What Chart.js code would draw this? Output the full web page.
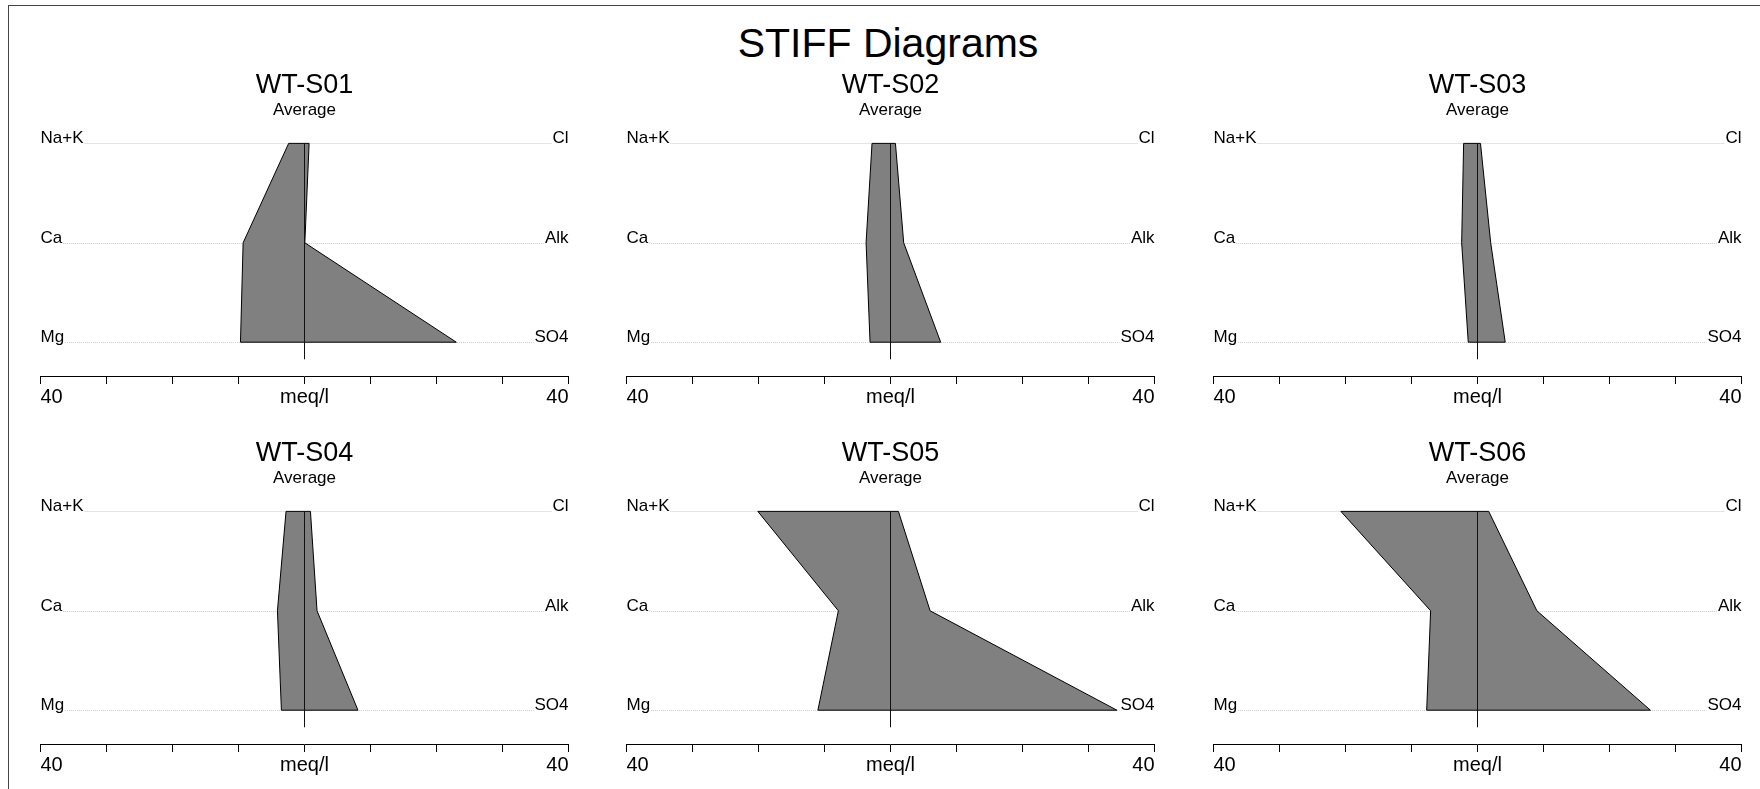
<!DOCTYPE html>
<html>
<head>
<meta charset="utf-8">
<script src="https://cdn.jsdelivr.net/npm/chart.js@4/dist/chart.umd.min.js"></script>
<style>
  html, body { margin: 0; padding: 0; background: #fff; overflow: hidden; }
  body { width: 1760px; height: 789px; position: relative; }
  #frame { position: absolute; left: 8px; top: 5px; width: 2000px; height: 2000px; border: 1px solid #444; }
  #mainTitle { position: absolute; left: 688px; top: 23px; width: 400px; text-align: center;
    font: 41px 'Liberation Sans', Arial, sans-serif; line-height: 40px; color: #000; }
  canvas { position: absolute; }
</style>
</head>
<body>
<div id="frame"></div>
<div id="mainTitle">STIFF Diagrams</div>

<script>
// Data (meq/l)
const stations = ['WT-S01', 'WT-S02', 'WT-S03', 'WT-S04', 'WT-S05', 'WT-S06'];
const cations = ['Na+K', 'Ca', 'Mg'];
const anions = ['Cl', 'Alk', 'SO4'];
const naK = [2.4, 2.8, 2.1, 2.8, 20.1, 20.7];
const ca  = [9.3, 3.7, 2.4, 4.1, 7.9, 7.1];
const mg  = [9.7, 3.1, 1.4, 3.5, 11.0, 7.7];
const cl  = [0.7, 0.75, 0.45, 0.9, 1.2, 1.7];
const alk = [0.05, 2.0, 2.0, 1.9, 6.0, 9.0];
const so4 = [23.0, 7.6, 4.2, 8.1, 34.3, 26.2];
const xTickLabels = ['40', '', '', '', 'meq/l', '', '', '', '40'];

const FONT = "'Liberation Sans', Arial, sans-serif";
Chart.defaults.font.family = FONT;
Chart.defaults.color = '#000';

// ion names and dotted row lines
const rowPlugin = {
  id: 'ionRows',
  beforeDatasetsDraw(chart) {
    const {ctx, chartArea, scales} = chart;
    ctx.save();
    ctx.font = '17px ' + FONT;
    ctx.strokeStyle = '#c8c8c8';
    ctx.lineWidth = 1;
    ctx.setLineDash([1, 1]);
    cations.forEach((lab, i) => {
      const py = Math.round(scales.y.getPixelForValue(i)) + 0.5;
      const lw = ctx.measureText(lab).width;
      const rw = ctx.measureText(anions[i]).width;
      ctx.beginPath();
      ctx.moveTo(chartArea.left + lw + 1, py);
      ctx.lineTo(chartArea.right - rw - 1, py);
      ctx.stroke();
    });
    ctx.restore();
  },
  afterDatasetsDraw(chart) {
    const {ctx, chartArea, scales} = chart;
    ctx.save();
    ctx.font = '17px ' + FONT;
    ctx.fillStyle = '#000';
    ctx.textBaseline = 'alphabetic';
    cations.forEach((lab, i) => {
      const py = scales.y.getPixelForValue(i);
      ctx.textAlign = 'left';
      ctx.fillText(lab, chartArea.left, py);
      ctx.textAlign = 'right';
      ctx.fillText(anions[i], chartArea.right, py);
    });
    ctx.restore();
  }
};

const colLeft = [20, 606, 1193];
const rowTop = [60, 428];

stations.forEach((name, i) => {
  const cv = document.createElement('canvas');
  cv.width = 568;
  cv.height = 350;
  cv.style.left = colLeft[i % 3] + 'px';
  cv.style.top = rowTop[Math.floor(i / 3)] + 'px';
  document.body.appendChild(cv);

  const shape = [
    {x: -naK[i], y: 0}, {x: -ca[i], y: 1}, {x: -mg[i], y: 2},
    {x: so4[i], y: 2}, {x: alk[i], y: 1}, {x: cl[i], y: 0}, {x: -naK[i], y: 0}
  ];

  new Chart(cv, {
    type: 'scatter',
    data: {
      datasets: [
        {
          data: shape,
          showLine: true,
          fill: 'shape',
          backgroundColor: '#808080',
          borderColor: '#000',
          borderWidth: 1,
          pointRadius: 0,
          tension: 0,
          order: 2
        },
        {
          data: [{x: 0, y: 0}, {x: 0, y: 2.17}],
          showLine: true,
          fill: false,
          borderColor: '#111',
          borderWidth: 1,
          pointRadius: 0,
          order: 1
        }
      ]
    },
    options: {
      responsive: false,
      animation: false,
      events: [],
      layout: { padding: { left: 20.5, right: 19.5, top: 0, bottom: 0 } },
      plugins: {
        legend: { display: false },
        tooltip: { enabled: false },
        title: { display: true, text: name, font: { size: 27, weight: 'normal', lineHeight: 1 }, padding: { top: 12.5, bottom: 0 } },
        subtitle: { display: true, text: 'Average', font: { size: 17, weight: 'normal', lineHeight: 1 }, padding: { top: 2, bottom: 5 } }
      },
      scales: {
        x: {
          type: 'linear', min: -40, max: 40,
          border: { display: true, color: '#000', width: 1 },
          grid: { drawOnChartArea: false, drawTicks: true, tickLength: 8, color: '#000' },
          ticks: {
            stepSize: 10, autoSkip: false, maxRotation: 0, align: 'inner', padding: 1,
            font: { size: 20 }, color: '#000',
            callback: (v) => xTickLabels[Math.round((v + 40) / 10)]
          }
        },
        y: { type: 'linear', reverse: true, min: -0.2, max: 2.34, display: false }
      }
    },
    plugins: [rowPlugin]
  });
});
</script>
</body>
</html>
